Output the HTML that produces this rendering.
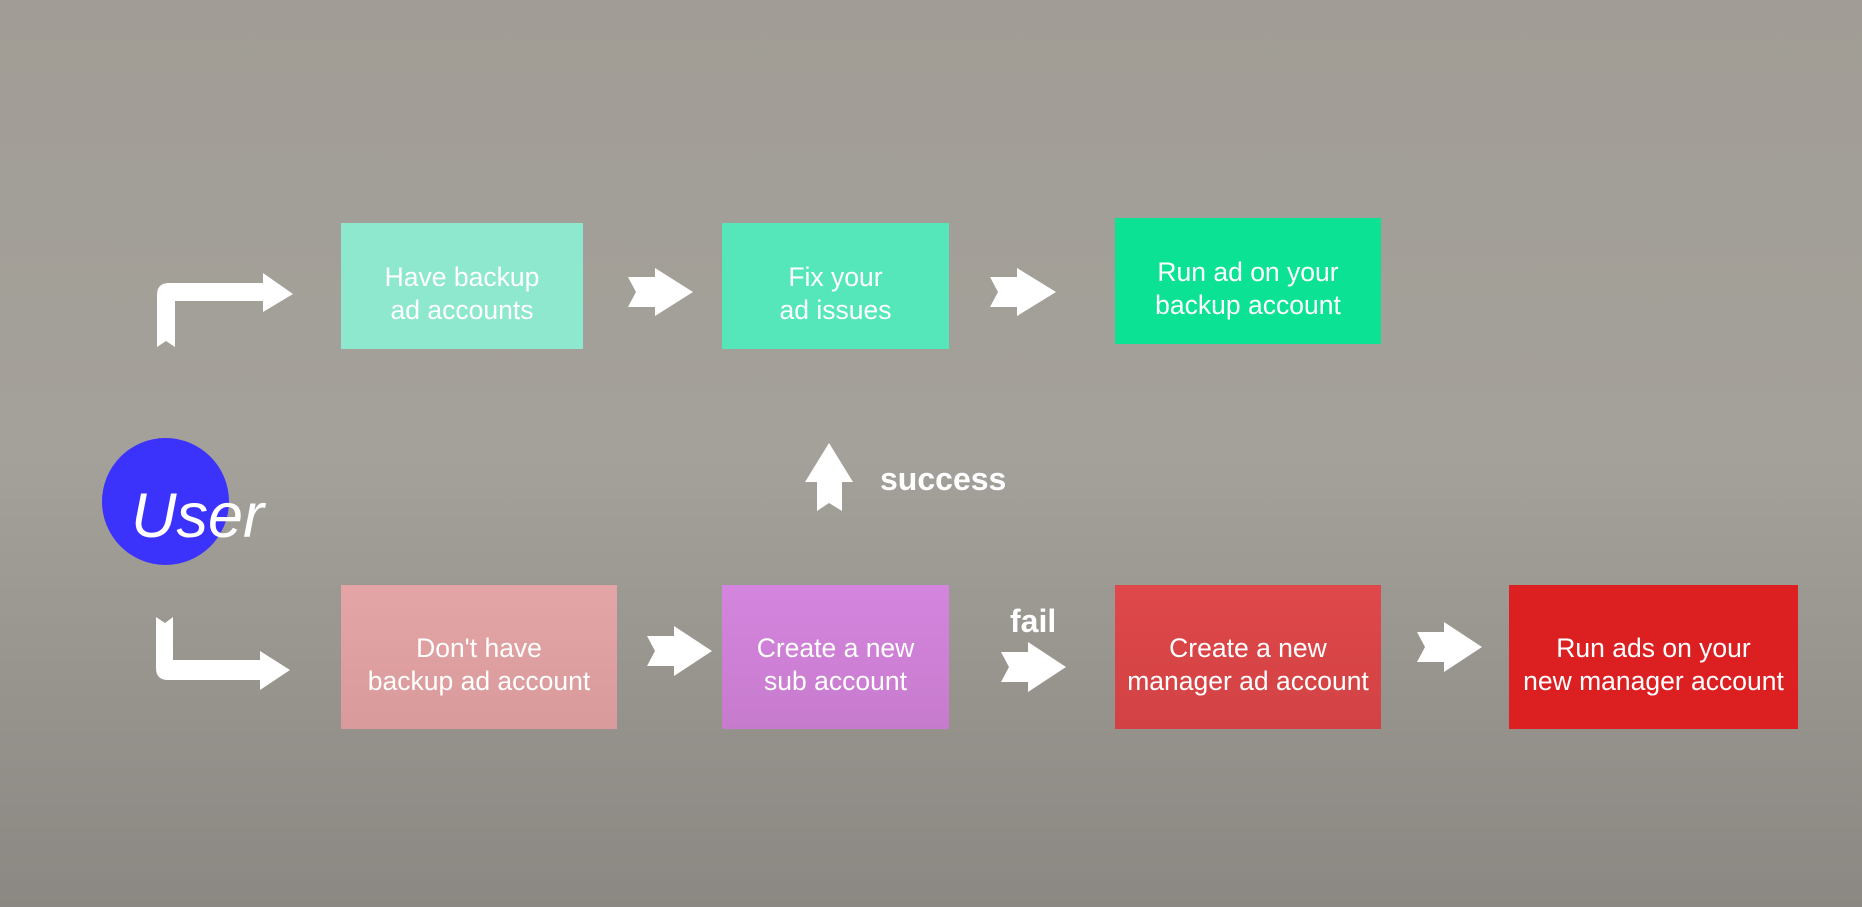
<!DOCTYPE html>
<html><head><meta charset="utf-8"><style>
body{margin:0;width:1862px;height:907px;overflow:hidden;background:linear-gradient(#a19d96 0%,#a4a19a 50%,#8b8782 100%);font-family:"Liberation Sans",sans-serif;position:relative}
.b{position:absolute;display:flex;align-items:center;justify-content:center;text-align:center;color:#fff;font-size:26.5px;line-height:33px;box-sizing:border-box;padding-top:16px}
.t{position:absolute;color:#fff;font-weight:bold;font-size:32px}
svg{position:absolute;left:0;top:0}
</style></head><body>
<div class="b" style="left:341px;top:223px;width:242px;height:126px;background:#8de8cd">Have backup<br>ad accounts</div>
<div class="b" style="left:722px;top:223px;width:227px;height:126px;background:#55e7b9">Fix your<br>ad issues</div>
<div class="b" style="left:1115px;top:218px;width:266px;height:126px;background:#0ce294">Run ad on your<br>backup account</div>
<div class="b" style="left:341px;top:585px;width:276px;height:144px;background:linear-gradient(#e4a5a6,#d99a9c)">Don't have<br>backup ad account</div>
<div class="b" style="left:722px;top:585px;width:227px;height:144px;background:linear-gradient(#d485de,#c77bcd)">Create a new<br>sub account</div>
<div class="b" style="left:1115px;top:585px;width:266px;height:144px;background:linear-gradient(#df484a,#d24244)">Create a new<br>manager ad account</div>
<div class="b" style="left:1509px;top:585px;width:289px;height:144px;background:#dc2022">Run ads on your<br>new manager account</div>
<div style="position:absolute;left:102px;top:438px;width:127px;height:127px;border-radius:50%;background:#3b32fb"></div>
<div style="position:absolute;left:131px;top:481px;color:#fff;font-style:italic;font-size:63px;line-height:70px">User</div>
<div class="t" style="left:880px;top:461px">success</div>
<div class="t" style="left:1010px;top:603px">fail</div>
<svg width="1862" height="907">
<g fill="#fff">
<path d="M157 347 L157 295 Q157 283 169 283 L263 283 L263 273 L293 294 L263 312 L263 301 L175 301 L175 347 L166 341 Z"/>
<path d="M156 617 L165 623 L173 617 L173 660 L260 660 L260 651 L290 670 L260 690 L260 680 L168 680 Q156 680 156 668 Z"/>
<path d="M628 277 L655 277 L655 268 L693 292 L655 316 L655 307 L628 307 L636 292 Z"/>
<path d="M990 277 L1017 277 L1017 268 L1056 292 L1017 316 L1017 307 L990 307 L998 292 Z"/>
<path d="M647 636 L674 636 L674 626 L712 651 L674 676 L674 666 L647 666 L655 651 Z"/>
<path d="M1001 652 L1028 652 L1028 642 L1066 667 L1028 692 L1028 682 L1001 682 L1009 667 Z"/>
<path d="M1417 632 L1444 632 L1444 622 L1482 647 L1444 672 L1444 662 L1417 662 L1425 647 Z"/>
<path d="M829 443 L853 482 L842 482 L842 511 L829 503 L817 511 L817 482 L805 482 Z"/>
</g></svg>
</body></html>
